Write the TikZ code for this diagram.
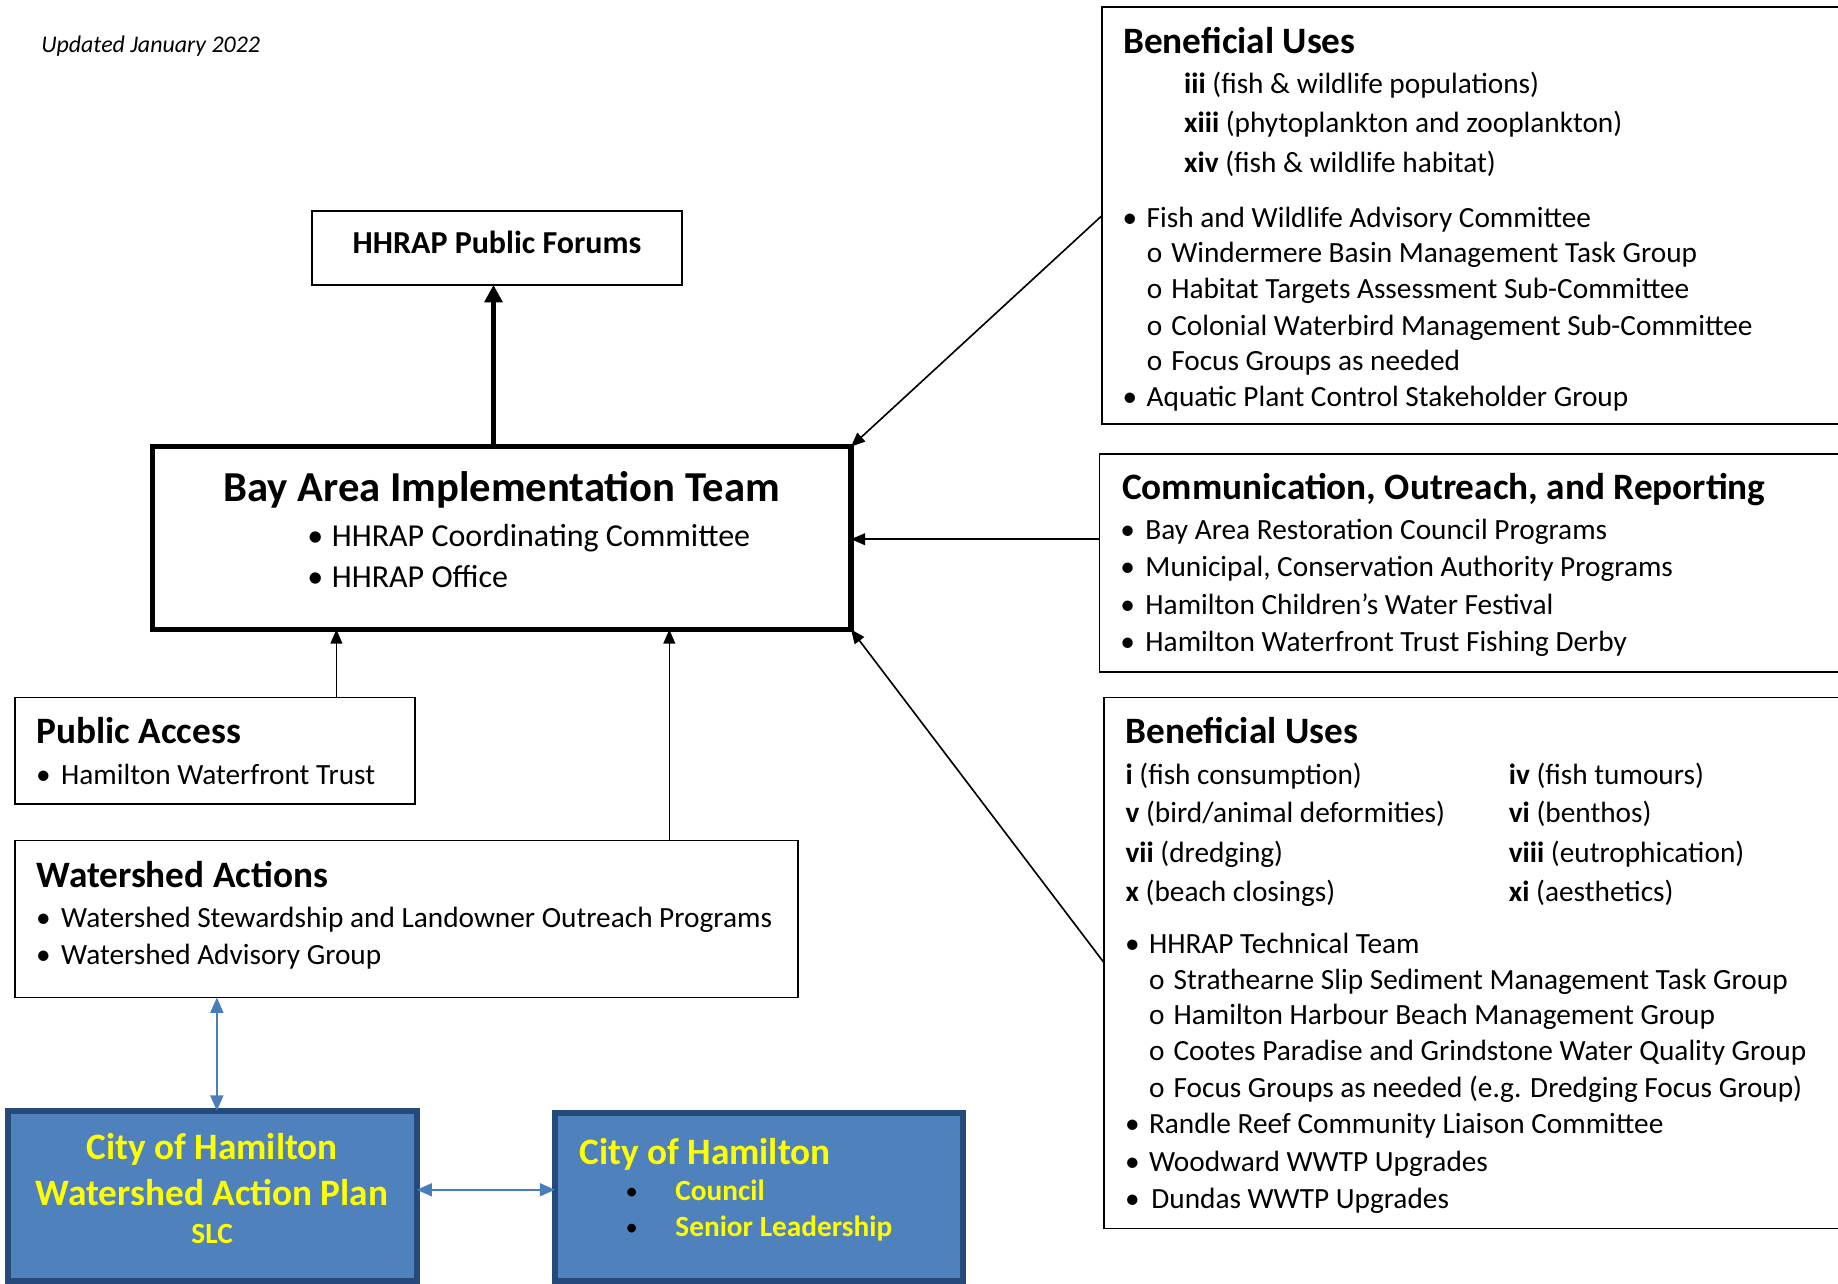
\documentclass[tikz,border=0pt]{standalone}
\usepackage{fontspec}
\setmainfont{Carlito}
\usetikzlibrary{arrows.meta,calc}
\definecolor{bluefill}{HTML}{4F81BD}
\definecolor{blueedge}{HTML}{244A7C}
\definecolor{arrowblue}{HTML}{4A7EBB}
\definecolor{yel}{HTML}{FFFF00}
\begin{document}
\begin{tikzpicture}[x=1pt,y=-1pt,
  box/.style={draw=black, line width=1.5pt, rectangle, inner sep=0pt, outer sep=0pt, anchor=north west},
  bluebox/.style={draw=blueedge, fill=bluefill, line width=5pt, rectangle, inner sep=0pt, outer sep=0pt, anchor=north west},
  body/.style={font=\fontsize{25}{30}\selectfont, inner sep=0pt, anchor=base west},
  bul/.style={font=\fontsize{25}{30}\selectfont, inner sep=0pt, anchor=base},
  head/.style={font=\fontsize{31.8}{38}\selectfont\bfseries, inner sep=0pt, anchor=base west},
  ybig/.style={font=\fontsize{31.8}{38}\selectfont\bfseries, text=yel, inner sep=0pt, anchor=base},
  ysmall/.style={font=\fontsize{25}{30}\selectfont\bfseries, text=yel, inner sep=0pt, anchor=base west},
  arr/.style={draw=black, line width=1.4pt, -{Triangle[length=12pt,width=10pt]}},
  thickarr/.style={draw=black, line width=4.3pt, -{Triangle[length=15pt,width=15pt]}},
  barr/.style={draw=arrowblue, line width=1.8pt, {Triangle[length=13pt,width=11pt]}-{Triangle[length=13pt,width=11pt]}},
]
\useasboundingbox (0,0) rectangle (1568,1094.55);
\clip (0,0) rectangle (1568,1094.55);
\fill[white] (0,0) rectangle (1568,1094.55);

% boxes
\node[box, minimum width=316pt, minimum height=63pt] (pf) at (266,180) {};
\node[box, line width=4.5pt, minimum width=596pt, minimum height=156pt] (bait) at (130,381) {};
\node[box, minimum width=640pt, minimum height=356pt] (bu1) at (940,6) {};
\node[box, minimum width=640pt, minimum height=186pt] (cor) at (938,387) {};
\node[box, minimum width=640pt, minimum height=453pt] (bu2) at (942,595) {};
\node[box, minimum width=341pt, minimum height=91pt] (pa) at (13,595) {};
\node[box, minimum width=668pt, minimum height=134pt] (wa) at (13,717) {};
\node[bluebox, minimum width=349pt, minimum height=145pt] (cw) at (6.5,947.5) {};
\node[bluebox, minimum width=348pt, minimum height=143pt] (ch) at (473.5,949.5) {};

% connectors
\draw[thickarr] ([xshift=-3pt]bait.north -| pf.south) -- ([xshift=-3pt]pf.south);
\draw[arr] (bu1.west) -- (bait.north east);
\draw[arr] ([yshift=20pt]cor.west) -- ([yshift=20pt]cor.west -| bait.east);
\draw[arr] (bu2.west) -- (bait.south east);
\draw[arr] ([xshift=274pt]pa.north west) -- ([xshift=274pt]pa.north west |- bait.south);
\draw[arr] ([xshift=558pt]wa.north west) -- ([xshift=558pt]wa.north west |- bait.south);
\draw[barr] ([xshift=172pt]wa.south west) -- ([xshift=172pt]wa.south west |- cw.north);
\draw[barr] ([yshift=5pt]cw.east) -- ([yshift=5pt]cw.east -| ch.west);

% header note
\node[body, font=\fontsize{20.4}{24}\selectfont\itshape] (upd) at (35,44.5) {Updated January 2022};

% public forums
\node[bul, font=\fontsize{27.3}{32}\selectfont\bfseries] (pft) at (424,216) {HHRAP Public Forums};

% BAIT
\node[bul, font=\fontsize{36.4}{44}\selectfont\bfseries] (baitt) at (428,428) {Bay Area Implementation Team};
\node[bul, font=\fontsize{27.3}{32}\selectfont] (baitb1) at (269,466) {•};
\node[body, font=\fontsize{27.3}{32}\selectfont] (baitl1) at (283,466) {HHRAP Coordinating Committee};
\node[bul, font=\fontsize{27.3}{32}\selectfont] (baitb2) at (269,501) {•};
\node[body, font=\fontsize{27.3}{32}\selectfont] (baitl2) at (283,501) {HHRAP Office};

% Beneficial uses 1
\node[head] (bu1h) at (958,46) {Beneficial Uses};
\node[body] (bu1a) at (1010,80) {\textbf{iii} (fish \& wildlife populations)};
\node[body] (bu1b) at (1010,113) {\textbf{xiii} (phytoplankton and zooplankton)};
\node[body] (bu1c) at (1010,147) {\textbf{xiv} (fish \& wildlife habitat)};
\node[bul] (bu1d0) at (964,194) {•};
\node[body] (bu1d) at (978,194) {Fish and Wildlife Advisory Committee};
\node[bul] (bu1e0) at (985,224) {o};
\node[body] (bu1e) at (999,224) {Windermere Basin Management Task Group};
\node[bul] (bu1f0) at (985,255) {o};
\node[body] (bu1f) at (999,255) {Habitat Targets Assessment Sub-Committee};
\node[bul] (bu1g0) at (985,286) {o};
\node[body] (bu1g) at (999,286) {Colonial Waterbird Management Sub-Committee};
\node[bul] (bu1h0) at (985,316) {o};
\node[body] (bu1hh) at (999,316) {Focus Groups as needed};
\node[bul] (bu1i0) at (964,347) {•};
\node[body] (bu1i) at (978,347) {Aquatic Plant Control Stakeholder Group};

% Communication
\node[head] (corh) at (957,426) {Communication, Outreach, and Reporting};
\node[bul] (cor10) at (962,460) {•};
\node[body] (cor1) at (977,460) {Bay Area Restoration Council Programs};
\node[bul] (cor20) at (962,492) {•};
\node[body] (cor2) at (977,492) {Municipal, Conservation Authority Programs};
\node[bul] (cor30) at (962,524) {•};
\node[body] (cor3) at (977,524) {Hamilton Children’s Water Festival};
\node[bul] (cor40) at (962,556) {•};
\node[body] (cor4) at (977,556) {Hamilton Waterfront Trust Fishing Derby};

% Beneficial uses 2
\node[head] (bu2h) at (960,634) {Beneficial Uses};
\node[body] (c1) at (960,669) {\textbf{i} (fish consumption)};
\node[body] (c2) at (960,702) {\textbf{v} (bird/animal deformities)};
\node[body] (c3) at (960,736) {\textbf{vii} (dredging)};
\node[body] (c4) at (960,769) {\textbf{x} (beach closings)};
\node[body] (d1) at (1287,669) {\textbf{iv} (fish tumours)};
\node[body] (d2) at (1287,702) {\textbf{vi} (benthos)};
\node[body] (d3) at (1287,736) {\textbf{viii} (eutrophication)};
\node[body] (d4) at (1287,769) {\textbf{xi} (aesthetics)};
\node[bul] (e10) at (966,813) {•};
\node[body] (e1) at (980,813) {HHRAP Technical Team};
\node[bul] (e20) at (987,844) {o};
\node[body] (e2) at (1001,844) {Strathearne Slip Sediment Management Task Group};
\node[bul] (e30) at (987,874) {o};
\node[body] (e3) at (1001,874) {Hamilton Harbour Beach Management Group};
\node[bul] (e40) at (987,905) {o};
\node[body] (e4) at (1001,905) {Cootes Paradise and Grindstone Water Quality Group};
\node[bul] (e50) at (987,936) {o};
\node[body] (e5) at (1001,936) {Focus Groups as needed (e.g. Dredging Focus Group)};
\node[bul] (e60) at (966,967) {•};
\node[body] (e6) at (980,967) {Randle Reef Community Liaison Committee};
\node[bul] (e70) at (966,999) {•};
\node[body] (e7) at (980,999) {Woodward WWTP Upgrades};
\node[bul] (e80) at (966,1031) {•};
\node[body] (e8) at (982,1031) {Dundas WWTP Upgrades};

% Public access
\node[head] (pah) at (31,634) {Public Access};
\node[bul] (pa10) at (37,669) {•};
\node[body] (pa1) at (52,669) {Hamilton Waterfront Trust};

% Watershed actions
\node[head] (wah) at (31,757) {Watershed Actions};
\node[bul] (wa10) at (37,791) {•};
\node[body] (wa1) at (52,791) {Watershed Stewardship and Landowner Outreach Programs};
\node[bul] (wa20) at (37,823) {•};
\node[body] (wa2) at (52,823) {Watershed Advisory Group};

% City boxes
\node[ybig] (cw1) at (181,989) {City of Hamilton};
\node[ybig] (cw2) at (181,1028) {Watershed Action Plan};
\node[ybig, font=\fontsize{25}{30}\selectfont\bfseries] (cw3) at (181,1061) {SLC};
\node[ybig, anchor=base west] (ch1) at (494,993) {City of Hamilton};
\node[bul, font=\fontsize{21}{26}\selectfont] (ch20) at (539,1023) {•};
\node[ysmall] (ch2) at (576,1024) {Council};
\node[bul, font=\fontsize{21}{26}\selectfont] (ch30) at (539,1054) {•};
\node[ysmall] (ch3) at (576,1055) {Senior Leadership};
\end{tikzpicture}
\end{document}
